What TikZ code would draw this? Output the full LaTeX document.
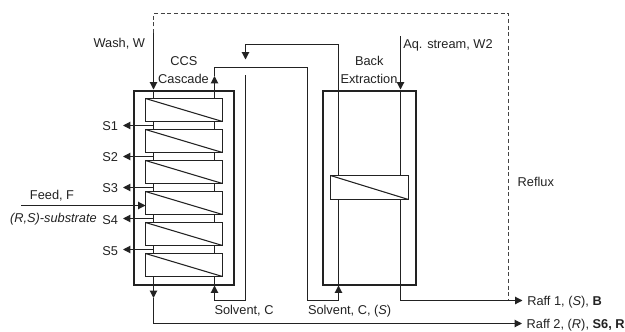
\documentclass[tikz,border=0pt]{standalone}
\usepackage{fontspec}
\setmainfont{Liberation Sans}
\usetikzlibrary{arrows.meta}
\definecolor{ink}{HTML}{222222}
\tikzset{
  box/.style={draw=ink,line width=1.5pt,inner sep=0pt,outer sep=0pt},
  cell/.style={draw=ink,line width=0.8pt,fill=white,minimum width=57.75pt,minimum height=17.25pt,inner sep=0pt,outer sep=0pt},
  diag/.style={draw=ink,line width=0.8pt},
  flow/.style={draw=ink,line width=0.8pt},
  arr/.style={flow,-{Triangle[length=5.5pt,width=5.5pt]}},
  reflux/.style={draw=ink!85,line width=0.8pt,dash pattern=on 3pt off 2pt},
  lab/.style={text=ink,font=\fontsize{9.6pt}{11pt}\selectfont,inner sep=0pt,outer sep=0pt},
}
\begin{document}
\begin{tikzpicture}[x=0.75pt,y=-0.75pt]
\useasboundingbox (0,0) rectangle (625,332);
\coordinate (lx) at (153.5,0);
\coordinate (rx) at (214.5,0);
\coordinate (sx) at (338.5,0);
% enclosures
\node[box,minimum width=75pt,minimum height=145.5pt] (ccs) at (184,188) {};
\node[box,minimum width=69.75pt,minimum height=145.5pt] (back) at (369.5,188) {};
% cascade cells
\foreach \n/\y in {c1/110,c2/141,c3/172,c4/203,c5/234,c6/265}{
  \node[cell] (\n) at (184,\y) {};
  \draw[diag] (\n.north west) -- (\n.south east);
}
\node[cell,minimum width=58.5pt,minimum height=18pt] (bc) at (369.5,187.5) {};
\draw[diag] (bc.north west) -- (bc.south east);
% inter-cell links and side draws
\foreach \a/\b in {c1/c2,c2/c3,c3/c4,c4/c5,c5/c6}{
  \draw[flow] (\a.south -| lx) -- (\b.north -| lx);
  \draw[flow] (\a.south -| rx) -- (\b.north -| rx);
}
\foreach \t/\y/\by in {S1/125.5/130,S2/156.5/161.5,S3/187.5/192.7,S4/218.5/224,S5/249.5/255}{
  \coordinate (j\t) at (153.5,\y);
  \node[lab,anchor=base east] (l\t) at (118,\by) {\t};
  \draw[arr] (j\t) -- (123,\y);
}
% labels
\node[lab,anchor=base east] (wash) at (145,47.5) {Wash, W};
\node[lab,anchor=base] (t1) at (184,65) {CCS};
\node[lab,anchor=base] (t2) at (183.5,83) {Cascade};
\node[lab,anchor=base] (t3) at (369.3,65.3) {Back};
\node[lab,anchor=base] (t4) at (369,83.3) {Extraction};
\node[lab,anchor=base west] (aq) at (403.3,48.3) {Aq. stream, W2};
\node[lab,anchor=base] (feed) at (52,199) {Feed, F};
\node[lab,anchor=base west] (sub) at (10,222.3) {\itshape (R,S)-substrate};
\node[lab,anchor=base west] (sc) at (214.5,314.7) {Solvent, C};
\node[lab,anchor=base west] (scs) at (308,314.7) {Solvent, C, (\textit{S})};
\node[lab,anchor=base west] (refl) at (517.7,186) {Reflux};
\node[lab,anchor=base west] (r1) at (527.3,305) {Raff 1, (\textit{S}), \textbf{B}};
\node[lab,anchor=base west] (r2) at (526.7,328.3) {Raff 2, (\textit{R}), \textbf{S6, R}};
% reflux and wash
\coordinate (washtop) at (153.5,33);
\coordinate (washtip) at (153.5,89.5);
\draw[reflux] (washtop) -- (153.5,13.5) -- (508.5,13.5) -- (508.5,300.5);
\draw[arr] (washtop) -- (washtip);
\draw[flow] (washtip) -- (c1.north -| lx);
% feed
\coordinate (feedin) at (21,205.5);
\draw[arr] (feedin) -- (c4.west |- feedin);
% solvent loop
\coordinate (outtip) at (214.5,76);
\coordinate (stip) at (338.5,285.5);
\coordinate (rtip) at (214.5,285.5);
\coordinate (dtip) at (245.5,59.5);
\coordinate (ret) at (245.5,75);
\draw[arr] (c1.north -| rx) -- (outtip);
\draw[flow] (outtip) -- (214.5,67.5) -- (307.5,67.5) -- (307.5,300.5) -- (338.5,300.5) -- (stip);
\draw[arr] (338.5,292) -- (stip);
\draw[flow] (stip) -- (bc.south -| sx);
\draw[flow] (bc.north -| sx) -- (338.5,44.5) -- (245.5,44.5) -- (245.5,52);
\draw[arr] (245.5,52) -- (dtip);
\draw[flow] (ret) -- (245.5,300.5) -- (214.5,300.5) -- (214.5,292);
\draw[arr] (214.5,292) -- (rtip);
\draw[flow] (rtip) -- (c6.south -| rx);
% aqueous stream and raffinate 1
\coordinate (aqtop) at (400.5,36);
\coordinate (aqtip) at (400.5,89.5);
\draw[arr] (aqtop) -- (aqtip);
\draw[flow] (aqtip) -- (bc.north -| aqtop);
\draw[arr] (bc.south -| aqtop) -- (400.5,300.5) -- (522.5,300.5);
% raffinate 2
\coordinate (r2tip) at (153.5,298);
\draw[arr] (c6.south -| lx) -- (r2tip);
\draw[arr] (r2tip) -- (153.5,323.5) -- (522,323.5);
\end{tikzpicture}
\end{document}
